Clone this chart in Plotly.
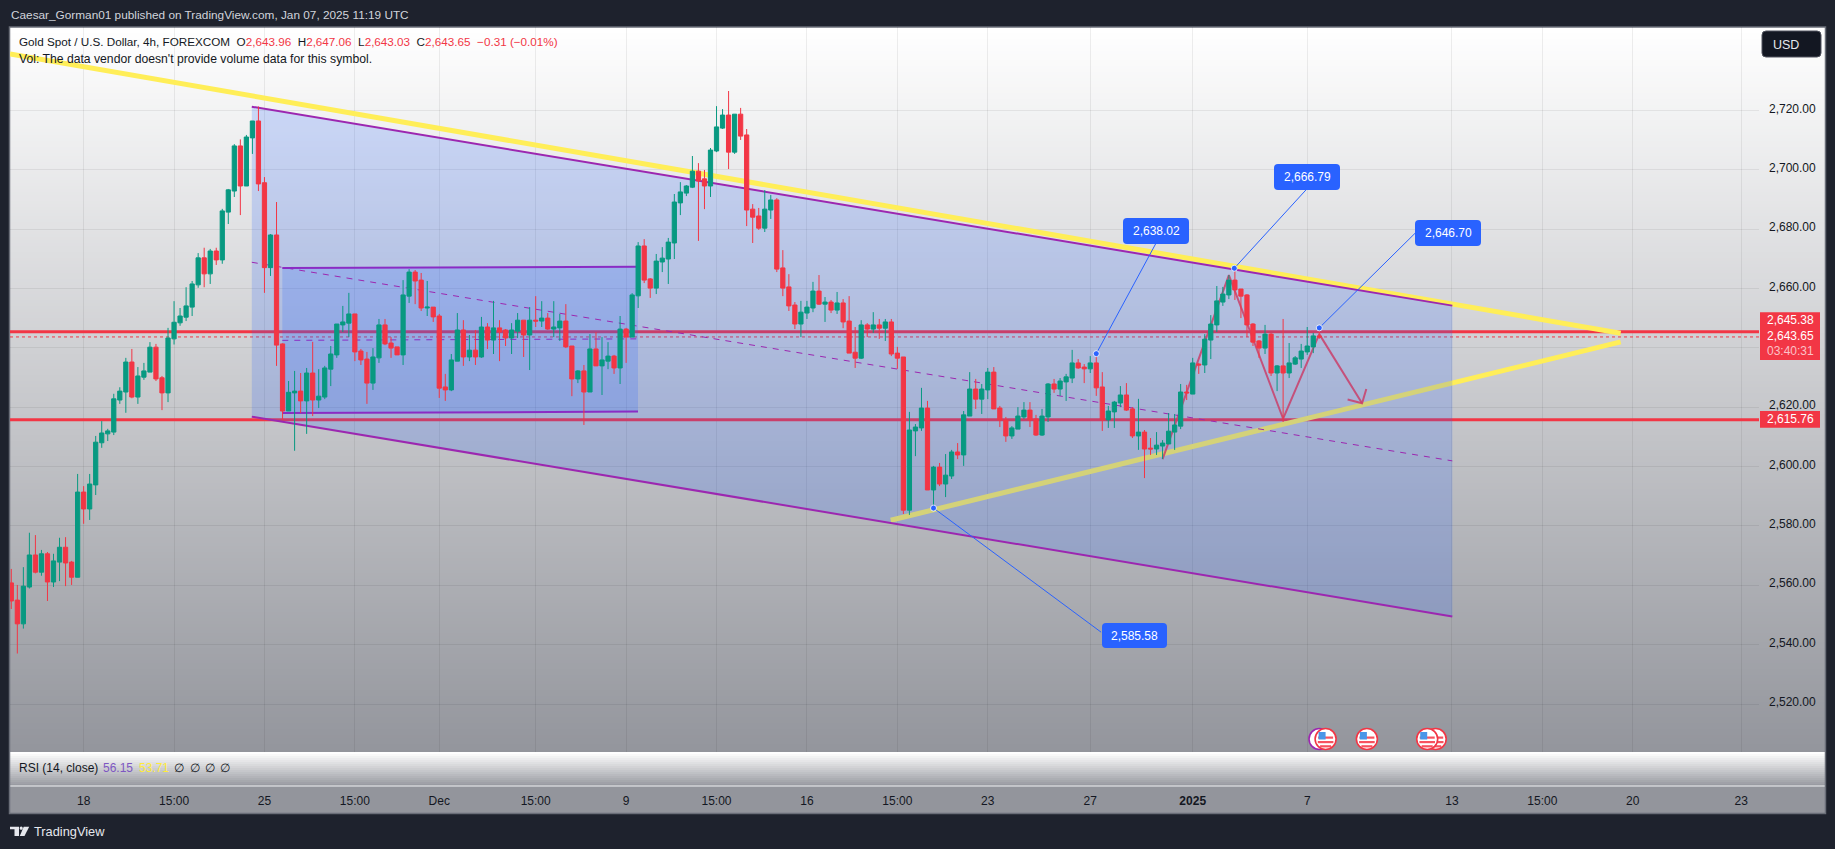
import plotly.graph_objects as go

W, H = 1835, 849
FONT = "Liberation Sans"

opens = [2560.8,2555.0,2547.0,2559.4,2570.2,2564.4,2570.6,2561.1,2567.8,2572.8,
2567.8,2562.7,2591.4,2585.7,2593.8,2608.0,2611.0,2611.6,2622.4,2625.1,
2635.2,2623.4,2630.1,2631.8,2640.2,2629.9,2624.8,2643.0,2648.4,2650.3,
2653.7,2661.2,2670.3,2664.9,2672.6,2669.6,2685.7,2692.8,2708.0,2694.5,
2710.7,2716.4,2695.6,2667.0,2678.0,2641.3,2618.7,2624.8,2625.4,2622.1,
2631.5,2622.4,2623.4,2632.8,2637.6,2647.7,2648.3,2651.4,2638.9,2636.2,
2628.1,2636.6,2647.7,2641.6,2640.3,2637.6,2657.4,2665.5,2662.8,2653.4,
2653.7,2650.7,2626.8,2625.8,2635.5,2646.0,2636.9,2639.2,2636.9,2647.0,
2642.6,2646.7,2646.0,2643.3,2645.6,2649.3,2644.3,2649.3,2649.0,2650.0,
2646.3,2646.7,2649.0,2640.6,2629.5,2632.2,2625.1,2639.6,2633.9,2635.5,
2637.2,2633.2,2646.3,2643.6,2657.5,2674.3,2663.2,2660.1,2668.9,2669.9,
2675.3,2688.8,2692.1,2694.1,2699.5,2696.9,2694.5,2706.3,2714.0,2718.4,
2705.9,2718.7,2711.7,2686.7,2684.4,2680.3,2686.4,2689.8,2666.9,2660.5,
2654.4,2648.0,2651.7,2653.4,2659.1,2654.7,2655.4,2652.7,2655.1,2649.0,
2638.5,2636.5,2647.7,2646.3,2647.7,2646.6,2648.7,2638.2,2636.9,2585.3,
2612.0,2613.0,2619.7,2592.1,2599.8,2594.1,2596.8,2604.9,2603.9,2617.0,
2626.1,2622.7,2625.8,2631.8,2619.7,2615.7,2610.3,2612.6,2616.7,2619.0,
2616.0,2610.6,2616.7,2627.8,2626.1,2628.5,2629.8,2634.9,2633.5,2632.9,
2634.9,2626.8,2615.7,2618.4,2621.4,2624.1,2619.4,2610.3,2611.6,2606.2,
2605.9,2606.9,2607.6,2611.6,2613.6,2625.1,2624.4,2634.5,2634.2,2642.6,
2647.7,2655.4,2657.8,2662.8,2659.8,2657.8,2648.0,2642.3,2639.9,2644.6,
2631.5,2633.9,2631.5,2634.5,2636.2,2638.6,2640.3,2643.96]

highs = [2565.5,2560.1,2566.1,2577.7,2576.9,2571.9,2571.2,2570.6,2576.0,2576.2,
2568.2,2597.5,2593.4,2597.5,2610.3,2615.3,2612.7,2624.5,2626.7,2636.6,
2639.6,2633.5,2634.9,2641.9,2641.3,2630.5,2646.7,2655.7,2653.4,2660.4,
2662.5,2671.9,2673.7,2673.3,2673.7,2686.8,2693.5,2708.6,2710.2,2711.7,
2716.4,2721.3,2697.5,2678.3,2689.1,2641.5,2628.8,2632.2,2631.5,2633.2,
2642.0,2632.8,2633.9,2640.6,2648.0,2654.1,2658.5,2651.4,2639.6,2638.6,
2639.9,2649.7,2649.7,2643.6,2640.3,2662.8,2666.5,2666.2,2665.2,2662.5,
2653.7,2651.4,2631.2,2637.9,2651.7,2649.3,2644.3,2646.0,2650.4,2648.3,
2655.8,2649.3,2646.3,2648.3,2651.7,2649.3,2653.7,2657.4,2655.7,2651.7,
2655.7,2651.4,2654.7,2640.6,2632.5,2634.2,2644.6,2645.3,2643.6,2641.9,
2637.6,2650.7,2646.7,2658.4,2675.6,2676.6,2663.5,2671.6,2673.9,2677.0,
2691.8,2695.8,2694.8,2704.6,2702.2,2699.9,2707.3,2721.4,2720.4,2726.5,
2718.7,2720.8,2713.7,2688.4,2687.1,2693.1,2691.5,2690.4,2672.9,2664.8,
2655.4,2655.8,2655.8,2662.2,2664.5,2657.1,2656.1,2658.8,2656.4,2657.4,
2647.0,2649.3,2648.3,2652.0,2649.7,2649.7,2649.7,2640.3,2636.9,2618.4,
2614.3,2626.5,2622.1,2600.2,2601.2,2604.2,2605.6,2607.9,2618.7,2631.8,
2629.5,2627.8,2633.2,2633.5,2620.4,2616.7,2613.6,2620.0,2621.7,2621.7,
2617.4,2619.4,2628.1,2629.5,2629.8,2631.2,2639.3,2636.2,2634.5,2637.2,
2638.02,2631.8,2620.4,2622.1,2627.1,2628.1,2620.0,2622.8,2612.3,2609.6,
2611.6,2608.9,2618.0,2617.7,2627.8,2627.5,2636.6,2634.9,2644.6,2651.0,
2660.8,2660.5,2664.5,2666.79,2659.8,2658.1,2648.3,2642.6,2647.7,2645.0,
2634.2,2649.7,2641.6,2637.2,2641.3,2647.0,2645.0,2647.06]

lows = [2552.0,2537.0,2545.4,2558.9,2564.0,2563.2,2554.7,2559.4,2561.4,2559.7,
2560.1,2562.7,2580.7,2582.0,2590.4,2606.3,2608.6,2610.6,2621.1,2618.1,
2623.0,2621.1,2629.2,2631.8,2628.8,2619.0,2621.7,2641.1,2647.4,2649.0,
2650.7,2660.2,2660.4,2661.5,2667.9,2668.3,2681.7,2690.8,2684.7,2694.5,
2705.3,2692.8,2658.5,2664.2,2633.9,2615.7,2618.7,2605.3,2618.0,2611.0,
2617.0,2619.7,2622.7,2627.1,2636.6,2645.3,2643.6,2635.5,2634.2,2621.1,
2625.8,2634.9,2640.9,2636.6,2637.6,2634.2,2655.1,2654.7,2652.4,2650.7,
2648.7,2623.1,2622.1,2625.4,2635.5,2633.9,2635.5,2634.2,2636.6,2639.6,
2637.9,2635.5,2640.6,2637.9,2643.3,2636.9,2632.5,2647.0,2647.0,2646.0,
2643.6,2642.3,2639.9,2623.7,2628.1,2614.0,2625.1,2633.9,2624.1,2632.8,
2631.2,2627.8,2634.9,2643.6,2653.4,2661.8,2656.8,2658.1,2665.5,2661.5,
2669.9,2684.7,2691.1,2693.8,2676.0,2686.7,2690.8,2705.9,2713.7,2700.2,
2705.3,2710.0,2681.0,2675.3,2679.7,2679.0,2683.4,2665.5,2657.4,2652.4,
2646.3,2643.6,2649.7,2652.0,2654.4,2648.7,2651.7,2651.4,2646.6,2638.2,
2633.2,2636.2,2643.6,2645.0,2643.0,2642.3,2637.2,2632.9,2584.0,2583.7,
2603.5,2612.0,2592.1,2585.6,2593.4,2589.7,2595.8,2602.5,2600.2,2617.0,
2619.4,2617.7,2622.7,2619.4,2613.3,2608.3,2609.3,2612.6,2616.0,2613.3,
2610.3,2610.3,2615.0,2624.8,2623.8,2622.1,2628.1,2632.9,2628.1,2631.5,
2623.8,2612.0,2613.0,2613.0,2620.0,2618.7,2609.6,2605.6,2596.1,2603.9,
2603.9,2602.5,2607.6,2605.6,2612.6,2622.4,2624.4,2631.2,2631.5,2636.2,
2645.3,2654.1,2656.4,2656.1,2650.0,2643.6,2640.6,2636.6,2637.9,2630.5,
2625.4,2615.0,2629.8,2634.2,2633.2,2637.6,2638.2,2643.03]

closes = [2554.7,2547.0,2559.7,2570.2,2564.4,2570.6,2561.1,2568.2,2572.8,2567.5,
2562.7,2591.4,2585.7,2594.1,2608.2,2611.3,2612.0,2622.8,2625.4,2635.2,
2623.4,2630.5,2632.2,2640.2,2629.5,2624.8,2643.3,2648.6,2650.7,2654.1,
2661.5,2670.3,2664.9,2672.6,2669.6,2686.1,2693.2,2708.0,2694.5,2711.0,
2716.4,2695.2,2667.0,2678.0,2640.9,2618.7,2625.0,2625.4,2622.1,2631.5,
2622.4,2623.7,2633.2,2637.9,2648.0,2648.7,2651.4,2638.6,2635.9,2628.1,
2636.9,2647.7,2641.3,2639.9,2637.6,2657.8,2665.5,2662.5,2653.4,2653.7,
2650.4,2626.4,2625.8,2635.9,2646.0,2636.9,2639.2,2636.9,2647.0,2642.6,
2646.7,2645.3,2643.3,2646.0,2649.3,2644.3,2649.3,2649.0,2650.0,2646.3,
2647.0,2649.0,2640.3,2629.5,2632.2,2625.1,2639.6,2633.9,2635.9,2637.2,
2633.2,2646.3,2643.6,2657.8,2674.3,2662.8,2660.1,2669.2,2670.2,2675.6,
2689.1,2692.5,2694.5,2699.5,2696.2,2694.5,2706.6,2714.4,2718.4,2705.9,
2718.7,2711.3,2686.4,2684.0,2680.3,2686.7,2689.8,2666.5,2660.1,2654.1,
2648.0,2652.0,2653.7,2659.1,2654.7,2655.4,2652.7,2655.1,2648.7,2638.2,
2636.5,2647.7,2646.3,2647.7,2646.6,2648.7,2637.9,2636.5,2585.3,2612.3,
2613.3,2619.7,2592.1,2599.8,2594.1,2597.1,2604.9,2603.9,2617.4,2626.1,
2622.7,2626.1,2631.8,2619.4,2615.7,2610.3,2613.0,2617.0,2619.0,2615.7,
2610.6,2617.0,2627.8,2626.1,2628.8,2630.2,2634.9,2633.2,2632.9,2634.9,
2626.5,2615.7,2618.7,2621.7,2624.1,2619.0,2610.3,2611.6,2605.9,2605.9,
2607.2,2607.9,2611.9,2614.0,2625.1,2624.8,2634.9,2634.2,2642.9,2648.0,
2655.8,2658.1,2662.8,2659.5,2657.4,2647.7,2641.9,2639.9,2644.6,2631.5,
2633.9,2631.5,2634.9,2636.6,2638.9,2640.6,2644.0,2643.65]

bars = list(range(1, len(opens) + 1))

tick_bars = [13, 28, 43, 58, 72, 88, 103, 118, 133, 148, 163, 180, 197, 216, 240, 255, 270, 288]
tick_labels = ["18", "15:00", "25", "15:00", "Dec", "15:00", "9", "15:00", "16", "15:00", "23", "27",
               "<b>2025</b>", "7", "13", "15:00", "20", "23"]
price_ticks = [2520, 2540, 2560, 2580, 2600, 2620, 2640, 2660, 2680, 2700, 2720]
price_labels = ["2,520.00", "2,540.00", "2,560.00", "2,580.00", "2,600.00", "2,620.00", "",
                "2,660.00", "2,680.00", "2,700.00", "2,720.00"]

X_RANGE = [0.784, 290.95]
Y_RANGE = [2503.83, 2748.06]

# drawings, in bar number / price
level_high = 2645.38
level_low = 2615.76
last_close = 2643.65
yellow_upper_x = [0.784, 268]
yellow_upper_y = [2739.0, 2644.9]
yellow_lower_x = [146.9, 268]
yellow_lower_y = [2581.9, 2642.0]
channel_x = [40.9, 240.07]
channel_top = [2721.2, 2654.2]
channel_mid = [2668.8, 2601.9]
channel_bottom = [2616.8, 2549.5]
range_x = [45.96, 104.97]
range_top = [2666.9, 2667.3]
range_mid = [2642.5, 2643.0]
range_bottom = [2618.0, 2618.5]
path_x = [192, 203, 212, 218, 225.1]
path_y = [2602.5, 2664.5, 2616.1, 2644.6, 2621.3]
head_x = [222.7, 225.1, 225.8]
head_y = [2622.6, 2621.3, 2626.1]
callout_values = ["2,638.02", "2,666.79", "2,646.70", "2,585.58"]
callout_x = [[181, 190.85], [203.9, 215.8], [218, 233.9], [154, 181.8]]
callout_y = [[2638.02, 2675.0], [2666.79, 2693.2], [2646.7, 2678.6], [2586.0, 2544.2]]
callout_boxes = [(1123, 1189, 218, 244), (1274, 1340, 164, 190), (1415, 1481, 220, 246), (1102, 1167, 623, 648)]

RED = "#F23645"
GREEN = "#089981"
PURPLE = "#9C27B0"
YELLOW = "#FFEE58"
BLUE = "#2962FF"
FILL = "rgba(41,98,255,0.2)"
DARK = "#1E222D"
TEXT = "#131722"

def px(x):
    return x / W

def py(y):
    return 1 - y / H

def hex_mix(a, b, t):
    return "rgb(%d,%d,%d)" % tuple(round(a[i] + (b[i] - a[i]) * t) for i in range(3))

TOP_C = (255, 255, 255)
BOT_C = (147, 149, 156)

shapes = []

def rect(x0, x1, y0, y1, fill, line=None, layer="below", lw=1):
    shapes.append(dict(type="rect", xref="paper", yref="paper", x0=px(x0), x1=px(x1), y0=py(y0), y1=py(y1),
                       fillcolor=fill, line=dict(color=line or fill, width=lw if line else 0), layer=layer))

# chart gradient background
step = 3
for y in range(27, 752, step):
    rect(10, 1825, y, min(y + step + 0.6, 752), hex_mix(TOP_C, BOT_C, (y - 27) / 725))
for y in range(752, 786, 2):
    rect(10, 1825, y, min(y + 2.5, 786), hex_mix(TOP_C, BOT_C, (y - 752) / 34))
rect(10, 1825, 786, 813, "rgb(147,149,156)")
shapes.append(dict(type="line", xref="paper", yref="paper", x0=px(10), x1=px(1825), y0=py(786), y1=py(786),
                   line=dict(color="#F0F1F3", width=1), layer="below"))
shapes.append(dict(type="rect", xref="paper", yref="paper", x0=px(9.5), x1=px(1825.5), y0=py(27), y1=py(813.5),
                   line=dict(color="#6A6E78", width=1.5), fillcolor="rgba(0,0,0,0)", layer="below"))

def rounded(x0, x1, y0, y1, r, fill, line=None):
    X0, X1, Y0, Y1 = px(x0), px(x1), py(y0), py(y1)
    rx, ry = r / W, r / H
    path = (f"M{X0+rx},{Y0} L{X1-rx},{Y0} Q{X1},{Y0} {X1},{Y0-ry} L{X1},{Y1+ry} Q{X1},{Y1} {X1-rx},{Y1} "
            f"L{X0+rx},{Y1} Q{X0},{Y1} {X0},{Y1+ry} L{X0},{Y0-ry} Q{X0},{Y0} {X0+rx},{Y0} Z")
    shapes.append(dict(type="path", xref="paper", yref="paper", path=path, fillcolor=fill,
                       line=dict(color=line or fill, width=1 if line else 0), layer="above"))

# red price tags, callout boxes, USD button
rect(1760, 1820, 312.3, 360, RED, layer="above")
rect(1760, 1820, 411, 427.7, RED, layer="above")
for b in callout_boxes:
    rounded(b[0], b[1], b[2], b[3], 4, BLUE)
rounded(1762, 1821, 31, 57, 4, "#131722", "#50535E")

# logo
L = lambda pts: "M" + " L".join(f"{px(a)},{py(b)}" for a, b in pts) + " Z"
for pts in ([(10, 826.7), (19, 826.7), (19, 836), (14.5, 836), (14.5, 829.3), (10, 829.3)],
            [(23.7, 826.7), (29.2, 826.7), (24.5, 836), (19.8, 836)]):
    shapes.append(dict(type="path", xref="paper", yref="paper", path=L(pts), fillcolor="#E6E8EE",
                       line=dict(width=0), layer="above"))
shapes.append(dict(type="circle", xref="paper", yref="paper", x0=px(19.6), x1=px(22.8), y0=py(826.6), y1=py(829.8),
                   fillcolor="#E6E8EE", line=dict(width=0), layer="above"))

# economic-calendar flags
def flag(cx, cy=739, ring=RED):
    r = 10.5
    shapes.append(dict(type="circle", xref="paper", yref="paper", x0=px(cx - r), x1=px(cx + r), y0=py(cy - r), y1=py(cy + r),
                       fillcolor="#FFFFFF", line=dict(color=ring, width=1.6), layer="above"))
    if ring == RED:
        for sy, hw in ((-2.5, 7.5), (2.0, 7.8), (6.2, 5.5)):
            rect(cx - hw, cx + hw, cy + sy, cy + sy + 2.2, "#F7525F", layer="above")
        rect(cx - 7, cx, cy - 7, cy + 0.5, "#4A96E8", layer="above")

flag(1319.5, ring="#9C27B0")
flag(1325.6)
flag(1366.9)
flag(1435.7)
flag(1427.2)

annotations = []

def note(x, y, text, size=12, color=TEXT, anchor="left"):
    annotations.append(dict(xref="paper", yref="paper", x=px(x), y=py(y), text=text, showarrow=False,
                            xanchor=anchor, yanchor="middle", align=anchor, borderpad=0,
                            font=dict(family=FONT, size=size, color=color)))

note(10, 15, "Caesar_Gorman01 published on TradingView.com, Jan 07, 2025 11:19 UTC", 11.8, "#D1D4DC")
r = lambda s: f'<span style="color:{RED}">{s}</span>'
note(18, 41.7, "Gold Spot / U.S. Dollar, 4h, FOREXCOM  O" + r("2,643.96") + "  H" + r("2,647.06") + "  L" + r("2,643.03")
     + "  C" + r("2,643.65") + "  " + r("−0.31 (−0.01%)"), 11.7)
note(18, 59, "Vol: The data vendor doesn't provide volume data for this symbol.", 12.2)
note(18, 767.7, "RSI (14, close)", 12)
note(102, 767.7, "56.15", 12, "#7E57C2")
note(138, 767.7, "53.71", 12, "#FFEB3B")
for x0 in (179, 195, 210, 225):
    note(x0, 767.7, "∅", 12, anchor="center")
note(33, 831.7, "TradingView", 12.8, "#E6E8EE")
note(1772, 44.5, "USD", 12.5, "#E6E8EE")
note(1815, 320, "2,645.38", 12, "#FFFFFF", "right")
note(1815, 336.3, "2,643.65", 12, "#FFFFFF", "right")
note(1815, 350.7, "03:40:31", 12, "#FBC1C7", "right")
note(1815, 419.3, "2,615.76", 12, "#FFFFFF", "right")
for txt, b in zip(callout_values, callout_boxes):
    note((b[0] + b[1]) / 2, (b[2] + b[3]) / 2, txt, 12, "#FFFFFF", "center")

fig = go.Figure()

def line_trace(xs, ys, color, width, dash="solid", fill=None, fillcolor=None, xa="x", ya="y", mode="lines"):
    fig.add_trace(go.Scatter(x=xs, y=ys, mode=mode, line=dict(color=color, width=width, dash=dash),
                             fill=fill, fillcolor=fillcolor, hoverinfo="skip", showlegend=False,
                             xaxis=xa, yaxis=ya))

# under the channel tint
line_trace(X_RANGE, [level_high, level_high], RED, 3)
line_trace(X_RANGE, [level_low, level_low], RED, 3)
line_trace(X_RANGE, [last_close, last_close], RED, 1, "dot")
line_trace(yellow_upper_x, yellow_upper_y, YELLOW, 5)
line_trace(yellow_lower_x, yellow_lower_y, YELLOW, 5)
line_trace(path_x, path_y, "rgba(242,54,69,0.85)", 2)
line_trace(head_x, head_y, "rgba(242,54,69,0.85)", 2)

# channel and range fills
line_trace(channel_x + channel_x[::-1], channel_top + channel_bottom[::-1], "rgba(0,0,0,0)", 0, fill="toself", fillcolor=FILL)
line_trace(range_x + range_x[::-1], range_top + range_bottom[::-1], "rgba(0,0,0,0)", 0, fill="toself", fillcolor=FILL)
line_trace(channel_x, channel_top, PURPLE, 2)
line_trace(channel_x, channel_bottom, PURPLE, 2)
line_trace(channel_x, channel_mid, PURPLE, 1, "6px,6px")
line_trace(range_x, range_top, "#8A2CC4", 2)
line_trace(range_x, range_bottom, "#8A2CC4", 2)
line_trace(range_x, range_mid, "#8A2CC4", 1, "6px,6px")

# candles on an overlaying pair of axes so they sit above the drawings
fig.add_trace(go.Candlestick(x=bars, open=opens, high=highs, low=lows, close=closes,
                             increasing=dict(line=dict(color=GREEN, width=1), fillcolor=GREEN),
                             decreasing=dict(line=dict(color=RED, width=1), fillcolor=RED),
                             whiskerwidth=0, hoverinfo="skip", showlegend=False, xaxis="x2", yaxis="y2"))

# callout leaders
for xs, ys in zip(callout_x, callout_y):
    line_trace(xs, ys, BLUE, 1, xa="x2", ya="y2")
    fig.add_trace(go.Scatter(x=xs[:1], y=ys[:1], mode="markers", hoverinfo="skip", showlegend=False, xaxis="x2", yaxis="y2",
                             marker=dict(size=6, color=BLUE, line=dict(color="rgba(255,255,255,0.8)", width=1))))

dom_x = [px(10), px(1759)]
dom_y = [py(752), py(27)]
GRID = "rgba(0,0,0,0.065)"

fig.update_layout(
    width=W, height=H, autosize=False,
    margin=dict(l=0, r=0, t=0, b=0, pad=0),
    paper_bgcolor=DARK, plot_bgcolor="rgba(0,0,0,0)",
    font=dict(family=FONT, size=12, color=TEXT),
    showlegend=False, shapes=shapes, annotations=annotations,
    boxgap=0.3, boxgroupgap=0,
    xaxis=dict(domain=dom_x, range=X_RANGE, tickmode="array", tickvals=tick_bars, ticktext=tick_labels,
               showgrid=True, gridcolor=GRID, gridwidth=1, zeroline=False, showline=False, ticks="",
               side="bottom", anchor="y", ticklabelstandoff=40, tickfont=dict(family=FONT, size=12, color=TEXT),
               rangeslider=dict(visible=False), fixedrange=True),
    yaxis=dict(domain=dom_y, range=Y_RANGE, tickmode="array", tickvals=price_ticks, ticktext=price_labels,
               showgrid=True, gridcolor=GRID, gridwidth=1, zeroline=False, showline=False, ticks="",
               side="right", anchor="x", ticklabelstandoff=9, ticklabelshift=-2,
               tickfont=dict(family=FONT, size=12, color=TEXT), fixedrange=True),
    xaxis2=dict(domain=dom_x, range=X_RANGE, overlaying="x", visible=False, anchor="y2",
                rangeslider=dict(visible=False), fixedrange=True),
    yaxis2=dict(domain=dom_y, range=Y_RANGE, overlaying="y", visible=False, anchor="x2", fixedrange=True),
)

fig.write_html("out.html", config=dict(displayModeBar=False),
               post_script="document.body.style.margin='0';document.documentElement.style.overflow='hidden';")
